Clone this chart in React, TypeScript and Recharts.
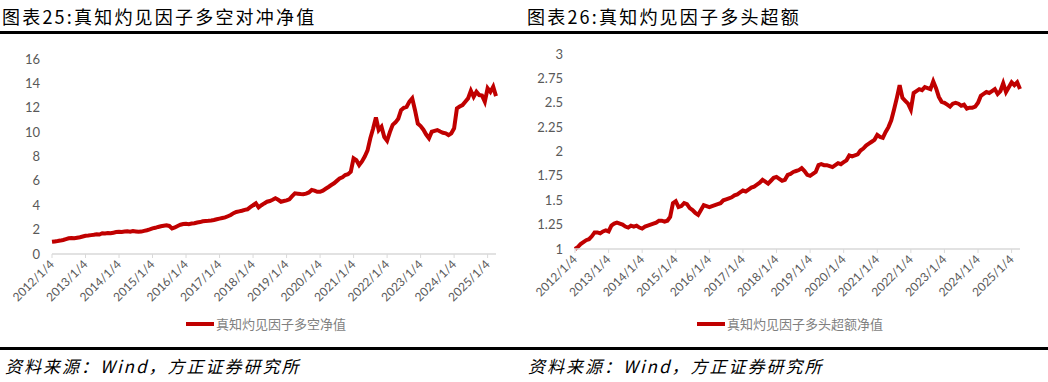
import React from "react";
import { LineChart, Line, XAxis, YAxis } from "recharts";

const startYear = 2012;
const yearTicks = [2012, 2013, 2014, 2015, 2016, 2017, 2018, 2019, 2020, 2021, 2022, 2023, 2024, 2025];
const leftYTicks = [0, 2, 4, 6, 8, 10, 12, 14, 16];
const rightYTicks = [1, 1.25, 1.5, 1.75, 2, 2.25, 2.5, 2.75, 3];

// 真知灼见因子多空净值 (monthly, from 2012/1)
const longShortNav = [
  1.0, 1.03, 1.06, 1.1, 1.15, 1.22, 1.29, 1.32, 1.3, 1.34, 1.38, 1.44,
  1.5, 1.52, 1.55, 1.58, 1.62, 1.6, 1.7, 1.68, 1.72, 1.7, 1.75, 1.8,
  1.83, 1.8, 1.84, 1.86, 1.83, 1.88, 1.85, 1.82, 1.84, 1.9, 1.95, 2.02,
  2.1, 2.15, 2.22, 2.28, 2.32, 2.35, 2.3, 2.1, 2.18, 2.3, 2.4, 2.46,
  2.48, 2.45, 2.5, 2.52, 2.58, 2.62, 2.68, 2.7, 2.72, 2.75, 2.79, 2.85,
  2.9, 2.95, 3.0, 3.1, 3.2, 3.35, 3.45, 3.5, 3.55, 3.62, 3.67, 3.85,
  4.0, 4.16, 3.83, 4.0, 4.15, 4.29, 4.35, 4.45, 4.57, 4.45, 4.29, 4.35,
  4.4, 4.49, 4.75, 4.98, 4.95, 4.92, 4.9, 4.95, 5.05, 5.25, 5.2, 5.1,
  5.1, 5.2, 5.35, 5.5, 5.66, 5.8, 6.0, 6.2, 6.3, 6.48, 6.55, 6.75,
  7.85, 7.7, 7.3, 7.6, 8.0, 8.5, 9.5, 10.3, 11.2, 10.17, 10.44, 9.6,
  9.3, 10.0, 10.6, 10.8, 11.1, 11.8, 12.0, 12.08, 12.5, 12.77, 11.8, 10.7,
  10.5, 10.2, 9.8, 9.49, 10.03, 10.1, 10.17, 10.05, 9.95, 9.9, 9.76, 9.9,
  10.31, 11.95, 12.1, 12.22, 12.5, 12.77, 13.4, 12.9, 13.31, 13.04, 13.0, 12.5,
  13.6, 13.3, 13.72, 12.95,
];

// 真知灼见因子多头超额净值 (monthly, from 2012/1)
const excessNav = [
  1.0, 1.02, 1.05, 1.07, 1.09, 1.1, 1.13, 1.17, 1.17, 1.16, 1.18, 1.19,
  1.18, 1.24, 1.26, 1.27, 1.26, 1.25, 1.23, 1.22, 1.24, 1.23, 1.24, 1.22,
  1.21, 1.23, 1.24, 1.25, 1.26, 1.27, 1.29, 1.29, 1.28, 1.29, 1.33, 1.47,
  1.49, 1.43, 1.44, 1.47, 1.46, 1.42, 1.4, 1.37, 1.35, 1.4, 1.45, 1.44,
  1.43, 1.44, 1.45, 1.46, 1.47, 1.5, 1.51, 1.52, 1.53, 1.55, 1.56, 1.58,
  1.6, 1.59, 1.61, 1.63, 1.64, 1.66, 1.68, 1.71, 1.69, 1.67, 1.7, 1.73,
  1.74, 1.72, 1.7, 1.71, 1.76, 1.77, 1.79, 1.8, 1.81, 1.83, 1.8, 1.76,
  1.75, 1.77, 1.79, 1.86, 1.87, 1.86, 1.86, 1.85, 1.84, 1.86, 1.88, 1.87,
  1.89, 1.91, 1.96, 1.95, 1.96, 1.97, 2.01, 2.03, 2.06, 2.08, 2.1, 2.12,
  2.17, 2.15, 2.14, 2.2, 2.25, 2.32, 2.43, 2.55, 2.68, 2.55, 2.52, 2.49,
  2.43, 2.6, 2.62, 2.64, 2.63, 2.66, 2.65, 2.64, 2.72, 2.65, 2.56, 2.51,
  2.5, 2.48, 2.46, 2.49, 2.5, 2.49, 2.47, 2.48, 2.44, 2.45, 2.45, 2.46,
  2.5, 2.57, 2.59, 2.61, 2.6, 2.62, 2.64, 2.59, 2.62, 2.7, 2.61, 2.66,
  2.71, 2.68, 2.71, 2.64,
];

const leftData = longShortNav.map((v, i) => ({ t: startYear + i / 12, v }));
const rightData = excessNav.map((v, i) => ({ t: startYear + i / 12, v }));
const xEnd = startYear + (longShortNav.length - 1) / 12;

const RED = "#C00000";
const GRAY = "#595959";
const AXIS = "#D9D9D9";

const XTick = (props: any) => {
  const { x, y, payload } = props;
  return (
    <text
      x={x}
      y={y}
      transform={`rotate(-45 ${x} ${y})`}
      textAnchor="end"
      fill={GRAY}
      fontSize={12}
      fontFamily="Lato, sans-serif"
      dy="0.35em"
    >
      {`${payload.value}/1/4`}
    </text>
  );
};

const LegendBox = ({ label, left }: { label: string; left: number }) => (
  <div style={{ position: "absolute", left, top: 316, display: "flex", alignItems: "center", whiteSpace: "nowrap" }}>
    <svg width={30} height={6} style={{ display: "block" }}>
      <line x1={0} y1={3} x2={28} y2={3} stroke={RED} strokeWidth={4} />
    </svg>
    <span style={{ fontSize: 13, color: "#7F7F7F", fontFamily: "'Noto Sans CJK SC', sans-serif", lineHeight: "16px" }}>{label}</span>
  </div>
);

const titleStyle: React.CSSProperties = {
  position: "absolute",
  top: 4,
  fontSize: 18,
  letterSpacing: 2.2,
  fontFamily: "'Noto Sans CJK SC', sans-serif",
  color: "#000",
  lineHeight: "24px",
  whiteSpace: "nowrap",
};

const sourceStyle: React.CSSProperties = {
  position: "absolute",
  top: 354,
  fontSize: 17,
  fontStyle: "italic",
  letterSpacing: 2,
  fontFamily: "'Noto Sans CJK SC', sans-serif",
  color: "#000",
  lineHeight: "24px",
  whiteSpace: "nowrap",
};

export default function App() {
  return (
    <div style={{ position: "absolute", left: 0, top: 0, width: 1048, height: 382, background: "#fff", overflow: "hidden" }}>
      <div style={{ ...titleStyle, left: 2 }}>图表25:真知灼见因子多空对冲净值</div>
      <div style={{ ...titleStyle, left: 527 }}>图表26:真知灼见因子多头超额</div>
      <div style={{ position: "absolute", left: 0, top: 31, width: 1048, height: 3, background: "#000" }} />
      <div style={{ position: "absolute", left: 0, top: 347, width: 1048, height: 3, background: "#000" }} />
      <div style={{ ...sourceStyle, left: 5 }}>资料来源：Wind，方正证券研究所</div>
      <div style={{ ...sourceStyle, left: 528 }}>资料来源：Wind，方正证券研究所</div>

      <div style={{ position: "absolute", left: 0, top: 40 }}>
        <LineChart width={520} height={300} data={leftData} margin={{ top: 19, right: 24, left: 0, bottom: 0 }}>
          <XAxis
            dataKey="t"
            type="number"
            domain={[startYear, xEnd]}
            ticks={yearTicks}
            interval={0}
            height={86}
            tick={<XTick />}
            tickSize={4}
            tickMargin={4}
            stroke={AXIS}
            axisLine={{ stroke: AXIS, strokeWidth: 1.5 }}
            tickLine={{ stroke: AXIS, strokeWidth: 1 }}
          />
          <YAxis
            type="number"
            domain={[0, 16]}
            ticks={leftYTicks}
            width={52}
            axisLine={false}
            tickLine={false}
            tickMargin={6}
            tick={{ fill: GRAY, fontSize: 13, fontFamily: "Lato, sans-serif" }}
          />
          <Line type="linear" dataKey="v" name="真知灼见因子多空净值" stroke={RED} strokeWidth={4} dot={false} isAnimationActive={false} />
        </LineChart>
      </div>

      <div style={{ position: "absolute", left: 520, top: 40 }}>
        <LineChart width={528} height={300} data={rightData} margin={{ top: 14, right: 28, left: 0, bottom: 0 }}>
          <XAxis
            dataKey="t"
            type="number"
            domain={[startYear, xEnd]}
            ticks={yearTicks}
            interval={0}
            height={91}
            tick={<XTick />}
            tickSize={4}
            tickMargin={4}
            stroke={AXIS}
            axisLine={{ stroke: AXIS, strokeWidth: 1.5 }}
            tickLine={{ stroke: AXIS, strokeWidth: 1 }}
          />
          <YAxis
            type="number"
            domain={[1, 3]}
            ticks={rightYTicks}
            width={55}
            axisLine={false}
            tickLine={false}
            tickMargin={6}
            tick={{ fill: GRAY, fontSize: 13, fontFamily: "Lato, sans-serif" }}
          />
          <Line type="linear" dataKey="v" name="真知灼见因子多头超额净值" stroke={RED} strokeWidth={4} dot={false} isAnimationActive={false} />
        </LineChart>
      </div>

      <LegendBox label="真知灼见因子多空净值" left={186} />
      <LegendBox label="真知灼见因子多头超额净值" left={697} />
    </div>
  );
}
